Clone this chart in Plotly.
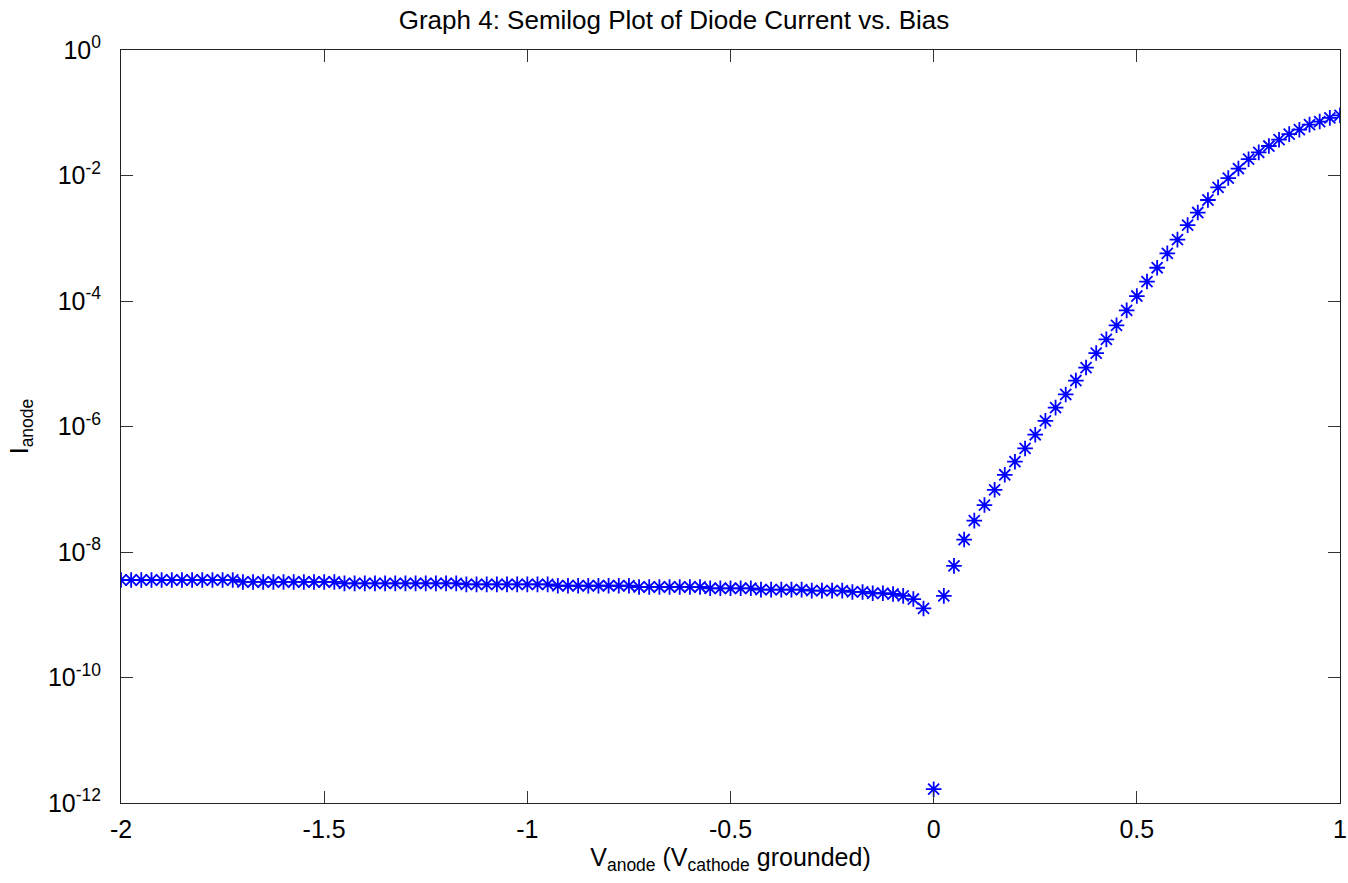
import numpy as np
import plotly.graph_objects as go

# Bias voltage (V), -2 to 1 in 25 mV steps
v_anode = [round(-2 + 0.025 * i, 3) for i in range(121)]

# Anode current (A)
i_reverse = ([3.58e-9] * 12 + [3.33e-9] * 10 + [3.16e-9] * 12 + [3.05e-9] * 9 +
             [2.90e-9] * 8 + [2.77e-9] * 7 + [2.64e-9] * 5 + [2.51e-9] * 5 +
             [2.42e-9] * 4 + [2.31e-9] * 2 + [2.20e-9] * 1)
i_near_zero = [2.20e-9, 2.14e-9, 2.0e-9, 1.78e-9, 1.26e-9, 1.66e-12]
i_forward = [2.0e-9, 6.0e-9, 1.58e-8, 3.16e-8, 5.6e-8, 9.8e-8, 1.70e-7, 2.75e-7,
             4.47e-7, 7.4e-7, 1.23e-6, 2.0e-6, 3.24e-6, 5.4e-6, 8.7e-6, 1.48e-5,
             2.45e-5, 4.1e-5, 7.1e-5, 1.20e-4, 2.04e-4, 3.39e-4, 5.75e-4, 9.5e-4,
             1.62e-3, 2.57e-3, 4.07e-3, 6.46e-3, 9.1e-3, 1.29e-2, 1.82e-2, 2.34e-2,
             2.95e-2, 3.72e-2, 4.57e-2, 5.37e-2, 6.46e-2, 7.24e-2, 8.3e-2, 9.1e-2]
i_anode = i_reverse + i_near_zero + i_forward

x_ticks = [-2, -1.5, -1, -0.5, 0, 0.5, 1]
x_tick_text = ["-2", "-1.5", "-1", "-0.5", "0", "0.5", "1"]
y_exps = [0, -2, -4, -6, -8, -10, -12]

font_family = "Liberation Sans, Arial, Helvetica, sans-serif"

fig = go.Figure()
fig.add_trace(go.Scatter(
    x=v_anode, y=i_anode, mode="markers",
    marker=dict(symbol="asterisk-open", size=13, color="#0000ff",
                line=dict(color="#0000ff", width=1.8)),
    showlegend=False,
))

axis_common = dict(
    showgrid=False, zeroline=False, showline=True, linecolor="#222222",
    linewidth=1, mirror="ticks", ticks="inside", ticklen=12, tickwidth=1,
    tickcolor="#333333", automargin=False,
    tickfont=dict(family=font_family, size=25, color="black"),
)

fig.update_xaxes(
    range=[-2, 1], tickvals=x_ticks, ticktext=x_tick_text, ticklabelstandoff=4,
    title=dict(text="V<sub>anode</sub> (V<sub>cathode</sub> grounded)",
               font=dict(family=font_family, size=25, color="black"), standoff=2),
    **axis_common,
)
fig.update_yaxes(
    type="log", range=[-12, 0],
    tickvals=[10.0 ** e for e in y_exps],
    ticktext=[f"10<sup>{e}</sup>" for e in y_exps],
    ticklabelstandoff=14,
    title=dict(text="I<sub>anode</sub>",
               font=dict(family=font_family, size=25, color="black"), standoff=12),
    **axis_common,
)

fig.update_layout(
    width=1348, height=883,
    margin=dict(l=121, r=8, t=50, b=80),
    paper_bgcolor="white", plot_bgcolor="white",
    title=dict(text="Graph 4: Semilog Plot of Diode Current vs. Bias",
               x=0.5, xanchor="center", y=0.977, yanchor="middle",
               font=dict(family=font_family, size=26, color="black")),
)

fig.write_html(
    "out.html",
    config={"displayModeBar": False},
    post_script="document.body.style.margin='0';document.body.style.overflow='hidden';",
)
